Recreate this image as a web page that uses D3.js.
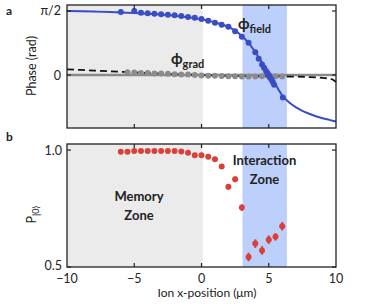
<!DOCTYPE html>
<html><head><meta charset="utf-8">
<script src="https://cdn.jsdelivr.net/npm/d3@7"></script>
<style>body{margin:0;background:#fff}svg{display:block}</style>
</head><body>
<script>
// ---- data ----
const xTicks = [-10, -5, 0, 5, 10];
const memoryZone = [-10, 0.1];
const interactionZone = [3.05, 6.35];
// phi_field measured
const fieldX = [-6, -5, -4.5, -4, -3.5, -3, -2.5, -2, -1.5, -1, -0.5, 0, 0.5, 1, 1.5, 2, 2.5, 3, 3.5, 4, 4.25, 4.5, 4.65, 4.8, 4.9, 5.0, 5.1, 5.2, 5.3, 5.4, 6.05];
const fieldY = [1.546, 1.571, 1.529, 1.513, 1.505, 1.489, 1.48, 1.465, 1.448, 1.423, 1.406, 1.374, 1.333, 1.284, 1.235, 1.185, 1.072, 0.94, 0.793, 0.56, 0.40, 0.26, 0.18, 0.10, 0.05, 0.0, -0.06, -0.11, -0.17, -0.24, -0.55];
// phi_field fit curve
const fitX = [-10, -8, -6, -4, -2, 0, 1, 2, 2.5, 3, 3.5, 4, 4.5, 5, 5.5, 6, 6.5, 7, 7.5, 8, 8.5, 9, 9.5, 10];
const fitY = [1.57, 1.56, 1.535, 1.505, 1.455, 1.365, 1.29, 1.18, 1.09, 0.96, 0.79, 0.56, 0.31, 0.04, -0.23, -0.5, -0.67, -0.79, -0.88, -0.95, -1.01, -1.06, -1.10, -1.14];
// phi_grad measured
const gradX = [-5.5, -5, -4.5, -4, -3.5, -3, -2.5, -2, -1.5, -1, -0.5, 0, 0.5, 1, 1.5, 2, 2.5, 3, 3.5, 4, 4.5, 5, 5.5, 6];
const gradY = [0.07, 0.06, 0.05, 0.05, 0.04, 0.035, 0.03, 0.02, 0.015, 0.01, 0.0, -0.01, -0.015, -0.02, -0.025, -0.03, -0.03, -0.035, -0.035, -0.035, -0.03, -0.035, -0.03, -0.035];
// phi_grad model (dashed)
const gradFitX = [-10, -8, -6, -4, -2, 0, 2, 4, 6, 8, 9, 9.5, 9.8, 10];
const gradFitY = [0.14, 0.11, 0.08, 0.05, 0.02, 0.0, -0.02, -0.03, -0.035, -0.05, -0.07, -0.09, -0.12, -0.17];
// P|0> measured
const pX = [-6, -5.5, -5, -4.5, -4, -3.5, -3, -2.5, -2, -1.5, -1, -0.5, 0, 0.5, 1, 1.5, 2, 2.5, 3, 3.5, 4, 4.5, 5, 5.5, 6];
const pY = [0.993, 0.993, 0.996, 0.996, 0.996, 0.996, 0.996, 0.996, 0.996, 0.994, 0.989, 0.978, 0.978, 0.971, 0.961, 0.93, 0.843, 0.875, 0.754, 0.543, 0.6, 0.571, 0.617, 0.629, 0.674];
const pErr = [0, 0, 0, 0, 0, 0, 0, 0, 0, 0, 0, 0, 0, 0, 0, 0.004, 0.012, 0.012, 0.014, 0.018, 0.018, 0.018, 0.018, 0.016, 0.018];

// ---- layout ----
const W = 374, H = 304;
const svg = d3.select("body").append("svg").attr("width", W).attr("height", H)
  .style("font-family", "Lato, 'Open Sans', sans-serif");

const xL = 67, xR = 336;
const x = d3.scaleLinear().domain([-10, 10]).range([xL, xR]);
const yA = d3.scaleLinear().domain([-1.30, 1.718]).range([128, 5]);
const yB = d3.scaleLinear().domain([0.5, 1.026]).range([267, 144]);

const blue = "#3a4cc6", red = "#d9403a", grayDot = "#8c8c8c";
const textCol = "#222";

function panel(top, bottom) {
  const g = svg.append("g");
  g.append("rect").attr("x", x(memoryZone[0])).attr("y", top)
    .attr("width", x(memoryZone[1]) - x(memoryZone[0])).attr("height", bottom - top).attr("fill", "#ebebeb");
  g.append("rect").attr("x", x(interactionZone[0])).attr("y", top)
    .attr("width", x(interactionZone[1]) - x(interactionZone[0])).attr("height", bottom - top).attr("fill", "#bdd0fb");
  return g;
}
function frame(y, top, bottom, yTickVals) {
  const g = svg.append("g");
  const tl = 4;
  [-5, 0, 5].forEach(v => {
    g.append("line").attr("x1", x(v)).attr("x2", x(v)).attr("y1", top).attr("y2", top + tl).attr("stroke", textCol).attr("stroke-width", 1.2);
    g.append("line").attr("x1", x(v)).attr("x2", x(v)).attr("y1", bottom).attr("y2", bottom - tl).attr("stroke", textCol).attr("stroke-width", 1.2);
  });
  yTickVals.forEach(v => {
    g.append("line").attr("x1", xL).attr("x2", xL + tl).attr("y1", y(v)).attr("y2", y(v)).attr("stroke", textCol).attr("stroke-width", 1.2);
    g.append("line").attr("x1", xR).attr("x2", xR - tl).attr("y1", y(v)).attr("y2", y(v)).attr("stroke", textCol).attr("stroke-width", 1.2);
  });
  g.append("rect").attr("x", xL).attr("y", top).attr("width", xR - xL).attr("height", bottom - top)
    .attr("fill", "none").attr("stroke", textCol).attr("stroke-width", 1.3);
}

// ---- panel a ----
panel(5, 128);
const gA = svg.append("g");
gA.append("line").attr("x1", xL).attr("x2", xR).attr("y1", yA(0)).attr("y2", yA(0))
  .attr("stroke", "#8a8a8a").attr("stroke-width", 2.5);
const lineA = d3.line().x(d => x(d[0])).y(d => yA(d[1])).curve(d3.curveMonotoneX);
gA.append("path").datum(gradFitX.map((v, i) => [v, gradFitY[i]])).attr("d", lineA)
  .attr("fill", "none").attr("stroke", "#111").attr("stroke-width", 1.8).attr("stroke-dasharray", "7,4");
gA.selectAll("circle.g").data(gradX.map((v, i) => [v, gradY[i]])).join("circle")
  .attr("cx", d => x(d[0])).attr("cy", d => yA(d[1])).attr("r", 3).attr("fill", grayDot);
gA.append("path").datum(fitX.map((v, i) => [v, fitY[i]])).attr("d", lineA)
  .attr("fill", "none").attr("stroke", blue).attr("stroke-width", 2);
gA.selectAll("circle.f").data(fieldX.map((v, i) => [v, fieldY[i]])).join("circle")
  .attr("cx", d => x(d[0])).attr("cy", d => yA(d[1])).attr("r", 3).attr("fill", blue);
frame(yA, 5, 128, [Math.PI / 2, 0]);

// ---- panel b ----
panel(144, 267);
const gB = svg.append("g");
const pts = pX.map((v, i) => [v, pY[i], pErr[i]]);
gB.selectAll("line.e").data(pts.filter(d => d[2] > 0)).join("line")
  .attr("x1", d => x(d[0])).attr("x2", d => x(d[0]))
  .attr("y1", d => yB(d[1] - d[2])).attr("y2", d => yB(d[1] + d[2]))
  .attr("stroke", red).attr("stroke-width", 2.2);
gB.selectAll("circle").data(pts).join("circle")
  .attr("cx", d => x(d[0])).attr("cy", d => yB(d[1])).attr("r", 3).attr("fill", red);
frame(yB, 144, 267, [1.0, 0.5]);

// ---- text ----
const fs = 12.5;
function txt(t, px, py, opts = {}) {
  return svg.append("text").attr("x", px).attr("y", py).text(t)
    .attr("fill", opts.fill || textCol).attr("font-size", opts.size || fs)
    .attr("font-weight", opts.weight || "normal")
    .attr("text-anchor", opts.anchor || "start");
}
txt("a", 6, 15, {weight: "bold", size: 12});
txt("b", 6, 141, {weight: "bold", size: 12});
txt("π/2", 61, yA(Math.PI / 2) + 4.5, {anchor: "end"});
txt("0", 61, yA(0) + 4.5, {anchor: "end"});
txt("1.0", 62, yB(1.0) + 4.5, {anchor: "end"});
txt("0.5", 62, yB(0.5) + 3, {anchor: "end"});
xTicks.forEach(v => txt(d3.format("")(v).replace("-", "\u2212"), x(v), 283, {anchor: "middle"}));
txt("Ion x-position (\u03bcm)", 207, 297, {anchor: "middle", size: 12});
svg.append("text").attr("transform", "translate(36,66) rotate(-90)").attr("text-anchor", "middle")
  .attr("font-size", fs).attr("fill", textCol).text("Phase (rad)");
const pl = svg.append("text").attr("transform", "translate(36,214) rotate(-90)").attr("text-anchor", "middle")
  .attr("font-size", fs).attr("fill", textCol);
pl.append("tspan").text("P");
pl.append("tspan").attr("font-size", 9).attr("dy", 3).text("|0\u27e9");

// series labels
const phiF = svg.append("text").attr("x", 238).attr("y", 29).attr("fill", textCol).attr("font-weight", "bold");
phiF.append("tspan").attr("font-size", 15).text("\u03d5");
phiF.append("tspan").attr("font-size", 11).attr("dy", 4).text("field");
const phiG = svg.append("text").attr("x", 171).attr("y", 64).attr("fill", textCol).attr("font-weight", "bold");
phiG.append("tspan").attr("font-size", 15).text("\u03d5");
phiG.append("tspan").attr("font-size", 11).attr("dy", 4).text("grad");

txt("Memory", 139, 201, {weight: "bold", size: 13, anchor: "middle"});
txt("Zone", 139, 220, {weight: "bold", size: 13, anchor: "middle"});
txt("Interaction", 264.5, 165, {weight: "bold", size: 13, anchor: "middle"});
txt("Zone", 264.5, 184, {weight: "bold", size: 13, anchor: "middle"});
</script>
</body></html>
